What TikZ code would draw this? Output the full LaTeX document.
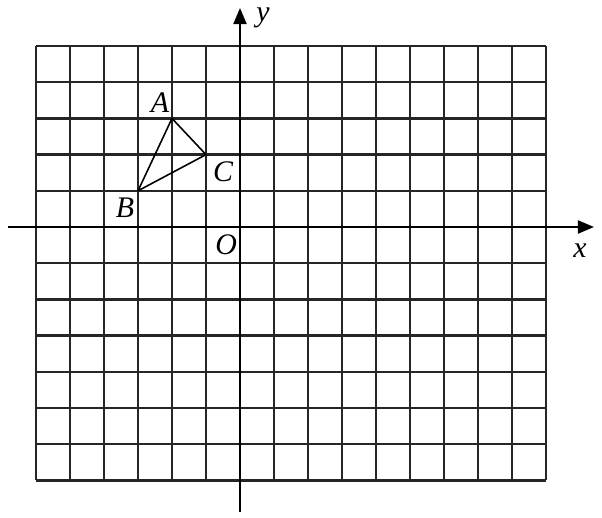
\documentclass[tikz,border=0pt]{standalone}
\usepackage{fontspec}
\setmainfont{Liberation Serif}
\usetikzlibrary{arrows.meta, positioning}

\begin{document}
\begin{tikzpicture}[x=0.68cm, y=0.724cm,
  gridline/.style={line width=1.3pt, black!85},
  axis/.style={-{Triangle[length=3.2mm,width=2.6mm]}, line width=1.2pt},
  lbl/.style={font=\fontsize{17}{20}\selectfont\itshape, inner sep=0pt}]
  \useasboundingbox (-7.059,-8.011) rectangle (10.647,6.271);
  % grid
  \draw[gridline, xstep=1, ystep=1] (-6,-7) grid (9,5);
  % axes
  \coordinate (xs) at (-6.82,0);
  \coordinate (xe) at (10.41,0);
  \coordinate (ys) at (0,-7.87);
  \coordinate (ye) at (0,6.05);
  \draw[axis] (xs) -- (xe);
  \draw[axis] (ys) -- (ye);
  \node[lbl] (xl) at (10.0,-0.64) {x};
  \node[lbl] (yl) at (0.68,5.77) {y};
  \node[lbl] (O) at (-0.41,-0.5) {O};
  % triangle
  \coordinate (A) at (-2,3);
  \coordinate (B) at (-3,1);
  \coordinate (C) at (-1,2);
  \draw[line width=0.9pt, line join=round] (A) -- (B) -- (C) -- cycle;
  \node[lbl] (Al) at (-2.35,3.43) {A};
  \node[lbl] (Bl) at (-3.38,0.52) {B};
  \node[lbl] (Cl) at (-0.5,1.52) {C};
\end{tikzpicture}
\end{document}
